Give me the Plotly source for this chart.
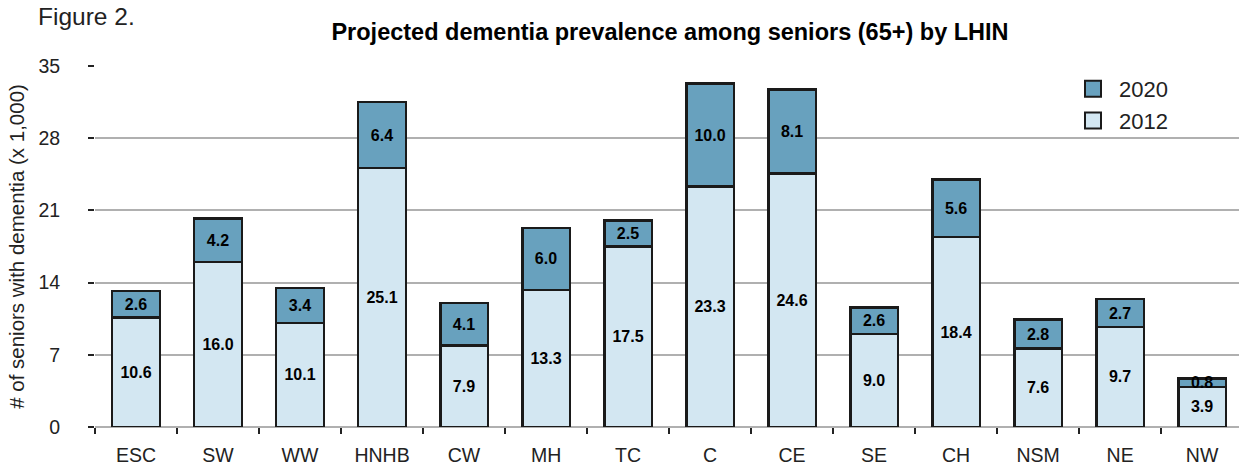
import plotly.graph_objects as go

regions = ["ESC", "SW", "WW", "HNHB", "CW", "MH", "TC", "C", "CE", "SE", "CH", "NSM", "NE", "NW"]
prev_2012 = [10.6, 16.0, 10.1, 25.1, 7.9, 13.3, 17.5, 23.3, 24.6, 9.0, 18.4, 7.6, 9.7, 3.9]
incr_2020 = [2.6, 4.2, 3.4, 6.4, 4.1, 6.0, 2.5, 10.0, 8.1, 2.6, 5.6, 2.8, 2.7, 0.8]
y_ticks = [0, 7, 14, 21, 28, 35]

FONT = "Liberation Sans, Arial, Helvetica, sans-serif"
LIGHT = "#d3e7f2"
DARK = "#68a1be"
EDGE = "#1a1a1a"

fig = go.Figure()
fig.add_trace(go.Bar(
    x=regions, y=prev_2012, name="2012", showlegend=False,
    marker=dict(color=LIGHT, line=dict(color=EDGE, width=2.5)),
    text=[f"{v:.1f}" for v in prev_2012], textposition="inside",
    insidetextanchor="middle", textangle=0, constraintext="none",
    textfont=dict(family=FONT, size=16, color="black", weight="bold"),
    hoverinfo="skip",
))
fig.add_trace(go.Bar(
    x=regions, y=incr_2020, name="2020", showlegend=False,
    marker=dict(color=DARK, line=dict(color=EDGE, width=2.5)),
    text=[f"{v:.1f}" for v in incr_2020], textposition="inside",
    insidetextanchor="middle", textangle=0, constraintext="none",
    textfont=dict(family=FONT, size=16, color="black", weight="bold"),
    hoverinfo="skip",
))
# legend entries with larger square swatches
for name, col in [("2020", DARK), ("2012", LIGHT)]:
    fig.add_trace(go.Scatter(
        x=[None], y=[None], mode="markers", name="\u00a0" + name,
        marker=dict(symbol="square", size=16, color=col, line=dict(color=EDGE, width=2)),
    ))

L, T, B = 95, 66, 39
W, H = 1239, 466
PW = W - L

fig.update_layout(
    width=W, height=H,
    barmode="stack", bargap=0.42,
    plot_bgcolor="white", paper_bgcolor="white",
    margin=dict(l=L, r=0, t=T, b=B, autoexpand=False),
    font=dict(family=FONT, color="black"),
    title=dict(text="<b>Projected dementia prevalence among seniors (65+) by LHIN</b>",
               x=670 / W, xref="container", xanchor="center",
               y=1 - 32 / H, yref="container", yanchor="middle",
               font=dict(size=23.5, family=FONT, color="black")),
    showlegend=True,
    legend=dict(x=(1073 - L) / PW, xref="paper", y=1 - (68 - T) / (H - T - B), yref="paper",
                xanchor="left", yanchor="top", traceorder="normal",
                font=dict(size=22, family=FONT, color="#222"), bgcolor="rgba(0,0,0,0)",
                itemwidth=30, tracegroupgap=0),
    annotations=[dict(text="Figure 2.", xref="paper", yref="paper",
                      x=(36 - L) / PW, y=1 + (T - 17) / (H - T - B),
                      xanchor="left", yanchor="middle", showarrow=False,
                      font=dict(size=24.5, family=FONT, color="#222"))],
)

fig.update_xaxes(
    range=[-0.5, 13.45], showgrid=False, ticks="outside", tickson="boundaries",
    ticklen=6, tickcolor="#222", tickwidth=1.5, showline=False,
    tickfont=dict(size=19.5, family=FONT, color="#222"), ticklabelstandoff=14,
)
fig.update_yaxes(
    range=[0, 35], tickvals=y_ticks, ticks="outside", ticklen=6,
    tickcolor="#222", tickwidth=1.5,
    showgrid=True, gridcolor="#b0b0b0", gridwidth=1.5,
    zeroline=True, zerolinecolor="#b0b0b0", zerolinewidth=1.5,
    tickfont=dict(size=19.5, family=FONT, color="#222"), ticklabelstandoff=24,
    title=dict(text="# of seniors with dementia (x 1,000)", standoff=8,
               font=dict(size=20.5, family=FONT, color="#222")),
)

fig.write_html("out.html", config={"displayModeBar": False},
               post_script="document.body.style.margin='0';document.body.style.overflow='hidden';")
